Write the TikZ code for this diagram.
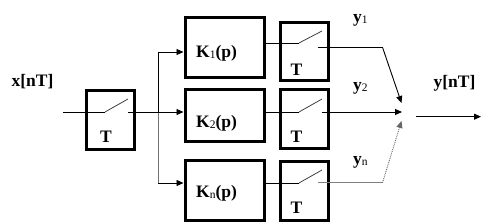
\documentclass[tikz,border=0pt]{standalone}
\usepackage{fontspec}
\setmainfont{Liberation Serif}
\usetikzlibrary{arrows.meta}
\newcommand{\sbx}[1]{{\fontsize{11.5}{11.5}\selectfont\mdseries\raisebox{-1pt}{#1}}}
\begin{document}
\begin{tikzpicture}[x=1pt,y=-1pt,
  blk/.style={draw,line width=3pt,inner sep=0pt,minimum width=79pt},
  sbox/.style={draw,line width=3pt,inner sep=0pt,minimum width=48pt,minimum height=58.5pt},
  wire/.style={line width=0.9pt},
  sw/.style={line width=0.8pt,black!75},
  arr/.style={wire,-{Triangle[length=7pt,width=6pt]}},
  lbl/.style={inner sep=0pt,font=\fontsize{17.5}{20}\selectfont\bfseries}]
\useasboundingbox (0,0) rectangle (502,224);
% blocks
\node[sbox] (tin) at (110.5,120) {};
\node[blk,minimum height=60pt] (k1) at (224.5,47.5) {};
\node[blk,minimum height=52pt] (k2) at (224.5,115.5) {};
\node[blk,minimum height=60pt] (kn) at (224.5,190.5) {};
\node[sbox] (t1) at (304.5,51.5) {};
\node[sbox] (t2) at (304.5,119) {};
\node[sbox] (tn) at (304.5,191) {};
% labels
\node[lbl] (xl) at (32.5,82) {x[nT]};
\node[lbl] (til) at (106,137) {T};
\node[lbl,anchor=west] (k1l) at (196,53) {K\sbx{1}(p)};
\node[lbl,anchor=west] (k2l) at (196,123) {K\sbx{2}(p)};
\node[lbl,anchor=west] (knl) at (196,193) {K\sbx{n}(p)};
\node[lbl] (t1l) at (296.5,70) {T};
\node[lbl] (t2l) at (296.5,137) {T};
\node[lbl] (tnl) at (296.5,208) {T};
\node[lbl,anchor=west] (y1l) at (353,20) {y\sbx{1}};
\node[lbl,anchor=west] (y2l) at (353,88) {y\sbx{2}};
\node[lbl,anchor=west] (ynl) at (353,162) {y\sbx{n}};
\node[lbl] (yl) at (454.5,83) {y[nT]};
% coordinates
\coordinate (xin) at (63,112);
\coordinate (s0a) at (105,112);
\coordinate (s0b) at (128,99);
\coordinate (s0c) at (128,112);
\coordinate (br) at (158,112);
\coordinate (brt) at (158,52);
\coordinate (brb) at (158,183);
\coordinate (sum) at (402,112);
\coordinate (sumt) at (401.5,103);
\coordinate (sumb) at (401.5,121);
\coordinate (bend1) at (382.5,47.3);
\coordinate (bendn) at (382.5,182.7);
\coordinate (yout) at (416,116.7);
\coordinate (yend) at (481,116.7);
% input switch
\draw[wire] (xin) -- (s0a);
\draw[sw] (s0a) -- (s0b);
\draw[wire] (s0c) -- (br);
\draw[wire] (brt) -- (br);
\draw[wire,black!55] (br) -- (brb);
\draw[arr] (brt) -- (brt -| k1.west);
\draw[arr] (br) -- (br -| k2.west);
\draw[arr] (brb) -- (brb -| kn.west);
% K -> T
\draw[wire] (k1.east |- 0,43) -- (299,43) coordinate (s1a);
\draw[sw] (s1a) -- (322,31);
\draw[wire] (k2.east |- 0,112) -- (299,112) coordinate (s2a);
\draw[sw] (s2a) -- (322,99);
\draw[wire] (kn.east |- 0,183) -- (299,183) coordinate (sna);
\draw[sw] (sna) -- (322,170);
% outputs
\draw[wire] (318,47.3) -- (bend1);
\draw[arr] (bend1) -- (sumt);
\draw[arr] (321.5,112) -- (sum);
\draw[wire,black!50] (318,182.7) -- (bendn);
\draw[arr,black!60,densely dotted] (bendn) -- (sumb);
\draw[arr] (yout) -- (yend);
\end{tikzpicture}
\end{document}
